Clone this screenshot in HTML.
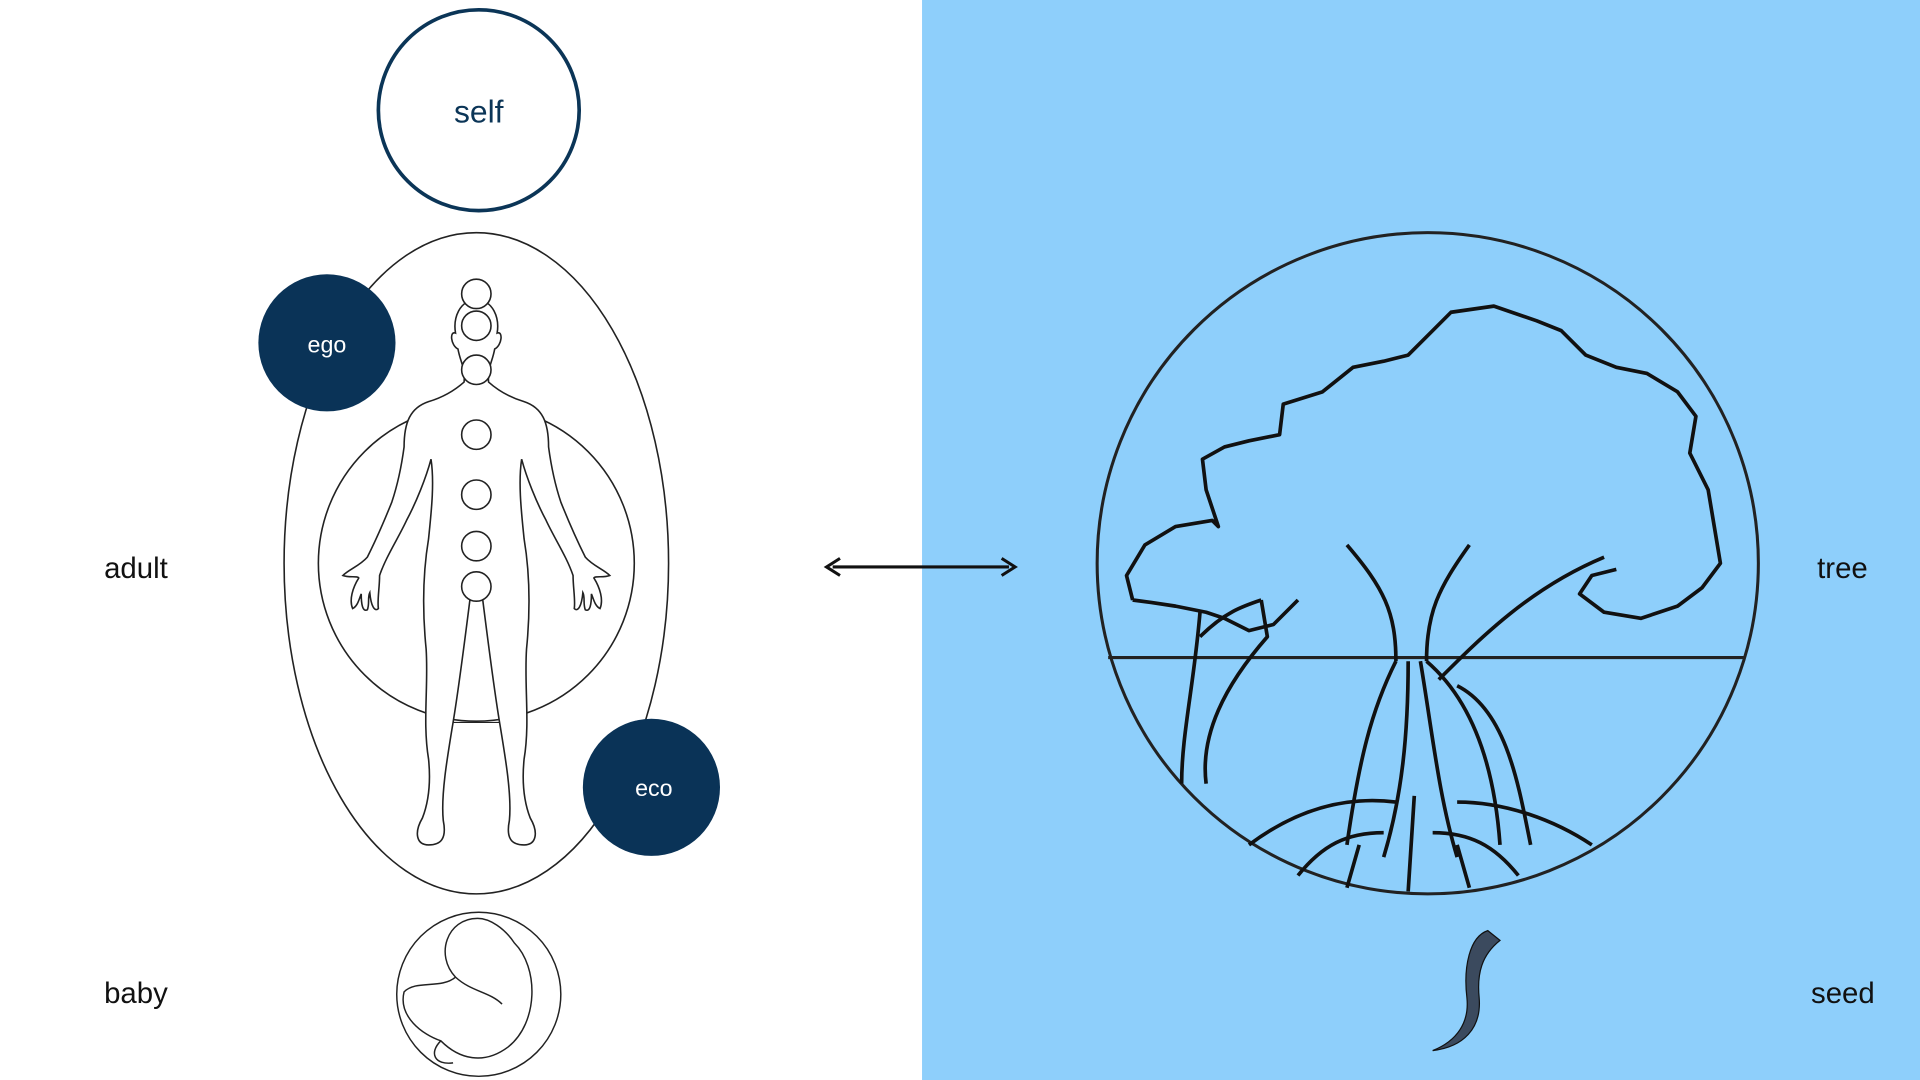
<!DOCTYPE html>
<html><head><meta charset="utf-8"><style>
html,body{margin:0;padding:0;width:1920px;height:1080px;overflow:hidden;background:#fff}
svg{display:block}
text{font-family:"Liberation Sans",sans-serif}
</style></head><body>
<svg width="1920" height="1080" viewBox="0 0 1568 882" preserveAspectRatio="none">
<rect x="753" y="0" width="815" height="882" fill="#8ecffb"/>
<!-- self -->
<circle cx="391" cy="90" r="82" fill="#fff" stroke="#0b3557" stroke-width="3"/>
<text x="391" y="100" font-size="26" fill="#0b3557" text-anchor="middle">self</text>
<!-- big ellipse -->
<ellipse cx="389" cy="460" rx="157" ry="270" fill="none" stroke="#222" stroke-width="1.3"/>
<circle cx="389" cy="460" r="129" fill="none" stroke="#222" stroke-width="1.3"/>
<!-- body -->
<path d="M389 245 C375 245 370 260 372 272 C367 270 368 282 374 285 C376 296 380 300 379 312 C370 320 360 325 350 328 C335 333 330 345 330 365 C328 380 325 395 320 410 C312 430 305 445 300 455 C294 462 285 465 280 470 C285 472 292 470 293 472 C288 480 285 490 288 497 C292 495 293 490 295 485 C295 493 296 500 300 498 C302 493 300 488 302 484 C303 495 306 500 309 497 C308 490 310 480 310 470 C315 455 325 440 332 425 C340 410 348 390 352 375 C355 395 352 420 350 440 C345 470 345 500 348 530 C350 560 345 590 350 620 C352 640 350 655 345 668 C338 680 340 690 350 690 C360 690 365 685 362 670 C360 650 365 620 370 590 C375 560 380 520 385 480 L393 480 C398 520 403 560 408 590 C413 620 418 650 416 670 C413 685 418 690 428 690 C438 690 440 680 433 668 C428 655 426 640 428 620 C433 590 428 560 430 530 C433 500 433 470 428 440 C426 420 423 395 426 375 C430 390 438 410 446 425 C453 440 463 455 468 470 C468 480 470 490 469 497 C472 500 475 495 476 484 C478 488 476 493 478 498 C482 500 483 493 483 485 C485 490 486 495 490 497 C493 490 490 480 485 472 C486 470 493 472 498 470 C493 465 484 462 478 455 C473 445 466 430 458 410 C453 395 450 380 448 365 C448 345 443 333 428 328 C418 325 408 320 399 312 C398 300 402 296 404 285 C410 282 411 270 406 272 C408 260 403 245 389 245 Z" fill="#fff" stroke="#222" stroke-width="1.3"/>
<line x1="370" y1="590" x2="408" y2="590" stroke="#222" stroke-width="1"/>
<g fill="#fff" stroke="#222" stroke-width="1.3">
<circle cx="389" cy="240" r="12"/><circle cx="389" cy="266" r="12"/><circle cx="389" cy="302" r="12"/>
<circle cx="389" cy="355" r="12"/><circle cx="389" cy="404" r="12"/><circle cx="389" cy="446" r="12"/><circle cx="389" cy="479" r="12"/>
</g>
<circle cx="267" cy="280" r="56" fill="#0a3357"/>
<text x="267" y="288" font-size="19" fill="#fff" text-anchor="middle">ego</text>
<circle cx="532" cy="643" r="56" fill="#0a3357"/>
<text x="534" y="650" font-size="19" fill="#fff" text-anchor="middle">eco</text>
<!-- baby -->
<circle cx="391" cy="812" r="67" fill="none" stroke="#222" stroke-width="1.2"/>
<path d="M390 750 C365 750 355 780 372 798 C360 808 340 800 330 810 C325 830 345 845 360 850 C375 865 395 870 415 855 C440 835 440 790 420 770 C412 758 400 750 390 750 Z M372 798 C385 810 400 810 410 820 M360 850 C350 860 355 870 370 868" fill="none" stroke="#222" stroke-width="1.2"/>
<!-- labels -->
<text x="85" y="472" font-size="24" fill="#111">adult</text>
<text x="85" y="819" font-size="24" fill="#111">baby</text>
<text x="1484" y="472" font-size="24" fill="#111">tree</text>
<text x="1479" y="819" font-size="24" fill="#111">seed</text>
<!-- arrow -->
<line x1="680" y1="463" x2="824" y2="463" stroke="#111" stroke-width="2.5"/>
<path d="M686 456 L675 463 L686 470" fill="none" stroke="#111" stroke-width="2.5"/>
<path d="M818 456 L829 463 L818 470" fill="none" stroke="#111" stroke-width="2.5"/>
<!-- tree circle -->
<circle cx="1166" cy="460" r="270" fill="none" stroke="#222" stroke-width="2.5"/>
<line x1="905" y1="537" x2="1425" y2="537" stroke="#222" stroke-width="2.5"/>
<g fill="none" stroke="#111" stroke-width="3" stroke-linejoin="round">
<path d="M925 490 L920 470 L935 445 L960 430 L990 425 L995 430 L985 400 L982 375 L1000 365 L1020 360 L1045 355 L1048 330 L1080 320 L1105 300 L1130 295 L1150 290 L1170 270 L1185 255 L1220 250 L1255 262 L1275 270 L1295 290 L1320 300 L1345 305 L1370 320 L1385 340 L1380 370 L1395 400 L1400 430 L1405 460 L1390 480 L1370 495 L1340 505 L1310 500 L1290 485 L1300 470 L1320 465 M1060 490 L1040 510 L1020 515 L1000 505 L985 500 L960 495 L940 492 L925 490"/>
<path d="M965 640 C965 600 975 560 980 500 M980 520 C1000 500 1015 495 1030 490 M985 640 C980 600 1000 560 1035 520 L1030 490"/>
<path d="M1140 540 C1140 500 1130 480 1100 445 M1165 540 C1165 500 1175 480 1200 445 M1140 540 C1120 580 1110 620 1100 690 M1165 540 C1200 570 1220 620 1225 690 M1150 540 C1150 600 1145 650 1130 700 M1160 540 C1170 600 1175 650 1190 700 M1175 555 C1210 520 1250 480 1310 455 M1190 560 C1230 580 1240 640 1250 690"/>
<path d="M1020 690 C1060 660 1100 650 1140 655 M1300 690 C1270 670 1230 655 1190 655 M1060 715 C1080 690 1100 680 1130 680 M1240 715 C1220 690 1200 680 1170 680 M1100 725 L1110 690 M1200 725 L1190 690 M1150 728 L1155 650"/>
</g>
<!-- seed -->
<path d="M1215 760 C1200 765 1195 790 1198 815 C1200 835 1190 850 1170 858 C1195 855 1210 840 1208 815 C1206 795 1210 780 1225 768 Z" fill="#3b4a5e" stroke="#111" stroke-width="1"/>
</svg>
</body></html>
